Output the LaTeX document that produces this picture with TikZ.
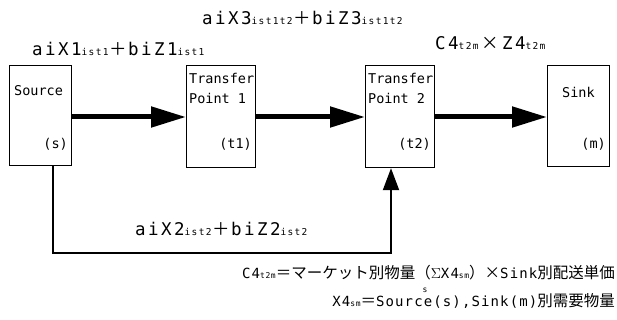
\documentclass[tikz,border=0pt]{standalone}
\usepackage{fontspec}
\setmainfont{DejaVu Sans Mono}
\newfontfamily\jp{Noto Sans CJK JP}
\newfontfamily\lsp[LetterSpace=14]{DejaVu Sans Mono}
\newfontfamily\nsp[LetterSpace=8]{DejaVu Sans Mono}
\usetikzlibrary{arrows.meta}
\newcommand\bigt[1]{{\lsp\fontsize{17.5}{18}\selectfont #1}}
\newcommand\smt[1]{{\lsp\fontsize{9.5}{10}\selectfont #1}}
\newcommand\jpt[1]{{\jp\fontsize{17.5}{18}\selectfont\hspace{1pt}#1\hspace{1pt}}}
\newcommand\boxt{\fontsize{13.5}{16}\selectfont}
\newcommand\notet{\nsp\fontsize{14}{16}\selectfont}
\newcommand\notej[1]{{\jp\fontsize{15.5}{16}\selectfont #1}}
\newcommand\notes[1]{{\fontsize{8}{9}\selectfont #1}}
\begin{document}
\begin{tikzpicture}[x=1pt,y=-1pt,
  box/.style={draw, line width=1.2pt, anchor=north west, minimum width=62pt, minimum height=100pt, inner sep=0pt},
  boxtxt/.style={inner sep=0pt, font=\boxt},
  flow/.style={line width=5pt, -{Triangle[length=35pt,width=20pt]}},
  ret/.style={line width=2pt, -{Triangle[length=22pt,width=16pt]}},
  lbl/.style={inner sep=0pt, anchor=base west},
  note/.style={inner sep=0pt, anchor=base east, font=\notet}]
\useasboundingbox (0,0) rectangle (617,320);
\node[box] (src) at (9,65) {};
\node[box, minimum width=69pt, minimum height=102pt] (tp1) at (186,65) {};
\node[box, minimum width=69pt, minimum height=102pt] (tp2) at (365,65) {};
\node[box, minimum width=62pt, minimum height=101pt] (snk) at (547,65) {};
% box texts
\node[boxtxt, anchor=base west] (srct) at (14,96) {Source};
\node[boxtxt, anchor=base east] (srcs) at (68,149) {(s)};
\node[boxtxt, anchor=base west] (tp1a) at (189,84) {Transfer};
\node[boxtxt, anchor=base west] (tp1b) at (189,104) {Point 1};
\node[boxtxt, anchor=base east] (tp1c) at (252,149) {(t1)};
\node[boxtxt, anchor=base west] (tp2a) at (368,84) {Transfer};
\node[boxtxt, anchor=base west] (tp2b) at (368,104) {Point 2};
\node[boxtxt, anchor=base east] (tp2c) at (431,149) {(t2)};
\node[boxtxt, anchor=base west] (snkt) at (562,98) {Sink};
\node[boxtxt, anchor=base east] (snkm) at (606,149) {(m)};
% flows
\draw[flow] (src.east |- 0,117) -- (tp1.west |- 0,117);
\draw[flow] (tp1.east |- 0,117) -- (tp2.west |- 0,117);
\draw[flow] (tp2.east |- 0,117) -- (snk.west |- 0,117);
\coordinate (b1) at (53,253);
\coordinate (b2) at (391,253);
\draw[ret] (b1 |- src.south) -- (b1) -- (b2) -- (b2 |- tp2.south);
% labels
\node[lbl] (l1) at (32,56) {\bigt{aiX1}\smt{ist1}\jpt{＋}\bigt{biZ1}\smt{ist1}};
\node[lbl] (l3) at (202,24.5) {\bigt{aiX3}\smt{ist1t2}\jpt{＋}\bigt{biZ3}\smt{ist1t2}};
\node[lbl] (l4) at (435,50) {\bigt{C4}\smt{t2m}\jpt{\hspace{2pt}×\hspace{2pt}}\bigt{Z4}\smt{t2m}};
\node[lbl] (l2) at (135,235) {\bigt{aiX2}\smt{ist2}\jpt{＋}\bigt{biZ2}\smt{ist2}};
% notes
\node[note] (n1) at (615,278) {C4\notes{t2m}\notej{＝マーケット別物量（}$\Sigma$X4\notes{sm}\notej{）×}Sink\notej{別配送単価}};
\node[inner sep=0pt, anchor=base] (n1s) at (425,292) {\notes{s}};
\node[note] (n2) at (615,306) {X4\notes{sm}\notej{＝}Source(s),Sink(m)\notej{別需要物量}};
\end{tikzpicture}
\end{document}
